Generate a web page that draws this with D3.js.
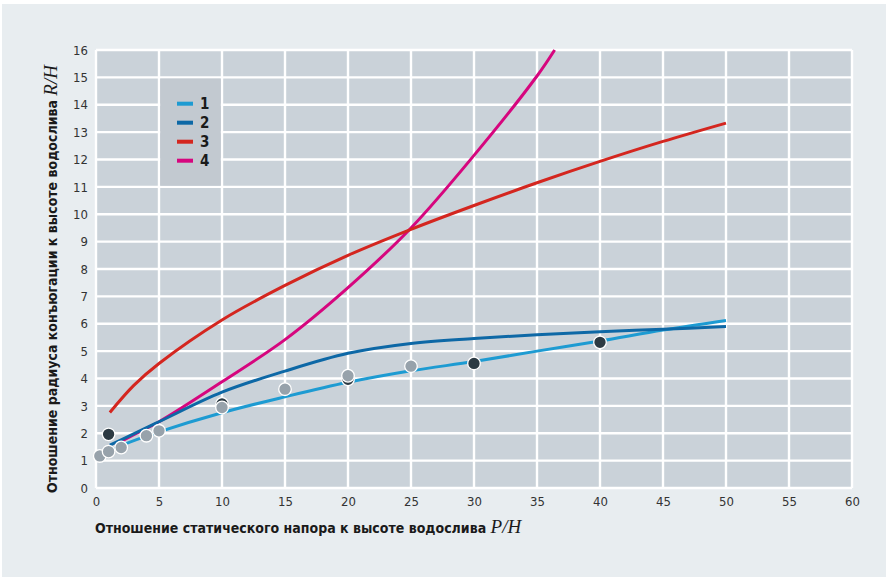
<!DOCTYPE html>
<html>
<head>
<meta charset="utf-8">
<script src="https://cdn.jsdelivr.net/npm/d3@7"></script>
<style>
  html, body { margin: 0; padding: 0; background: #ffffff; }
  svg { display: block; }
  .tick-label { font-family: "DejaVu Sans Condensed", sans-serif; font-size: 13px; fill: #333333; }
  .axis-title { font-family: "DejaVu Sans Condensed", sans-serif; font-weight: bold; font-size: 14px; fill: #1a1a1a; }
  .axis-var { font-family: "Liberation Serif", "DejaVu Serif", serif; font-style: italic; font-weight: normal; font-size: 19px; fill: #1a1a1a; }
  .legend-label { font-family: "DejaVu Sans Condensed", sans-serif; font-weight: bold; font-size: 15px; fill: #1a1a1a; }
</style>
</head>
<body>
<svg id="chart" width="886" height="577"></svg>
<script>
// Ticks
const xTicks = [0, 5, 10, 15, 20, 25, 30, 35, 40, 45, 50, 55, 60];
const yTicks = [0, 1, 2, 3, 4, 5, 6, 7, 8, 9, 10, 11, 12, 13, 14, 15, 16];

// Curve 1
const c1X = [1, 2, 5, 10, 15, 20, 25, 30, 35, 40, 45, 50];
const c1Y = [1.33, 1.55, 2.05, 2.75, 3.33, 3.86, 4.28, 4.62, 5.0, 5.37, 5.77, 6.12];
// Curve 2
const c2X = [1.1, 2, 5, 10, 15, 20, 25, 30, 35, 40, 45, 50];
const c2Y = [1.57, 1.76, 2.42, 3.5, 4.27, 4.92, 5.28, 5.46, 5.6, 5.71, 5.8, 5.9];
// Curve 3
const c3X = [1.1, 3, 5, 10, 15, 20, 25, 30, 35, 40, 45, 50];
const c3Y = [2.76, 3.75, 4.55, 6.14, 7.4, 8.5, 9.45, 10.32, 11.15, 11.93, 12.66, 13.33];
// Curve 4
const c4X = [1.5, 3, 5, 10, 15, 20, 25, 30, 35, 36.4];
const c4Y = [1.58, 1.95, 2.42, 3.88, 5.42, 7.32, 9.5, 12.15, 15.05, 16];

// Measured points
const grayX = [0.3, 1, 2, 4, 5, 10, 15, 20, 25];
const grayY = [1.17, 1.33, 1.48, 1.91, 2.09, 2.94, 3.61, 4.1, 4.45];
const darkX = [1, 10, 20, 30, 40];
const darkY = [1.96, 3.07, 3.97, 4.55, 5.32];

const seriesNames = ["1", "2", "3", "4"];
const seriesColors = ["#1d9bd2", "#0d68a6", "#d4261f", "#d6067e"];

const svg = d3.select("#chart");

// Panel background
svg.append("rect").attr("x", 2).attr("y", 4).attr("width", 884).attr("height", 573).attr("fill", "#e8edf0");

const plotL = 96, plotR = 852, plotT = 50, plotB = 488;
const x = d3.scaleLinear().domain([0, 60]).range([plotL, plotR]);
const y = d3.scaleLinear().domain([0, 16]).range([plotB, plotT]);

// Plot area
svg.append("rect").attr("x", plotL).attr("y", plotT).attr("width", plotR - plotL).attr("height", plotB - plotT).attr("fill", "#cad2d9");

const grid = svg.append("g").attr("stroke", "#ffffff").attr("stroke-width", 2.4);
grid.selectAll("line.v").data(xTicks).join("line").attr("class", "v")
  .attr("x1", d => x(d)).attr("x2", d => x(d)).attr("y1", plotT).attr("y2", plotB);
grid.selectAll("line.h").data(yTicks).join("line").attr("class", "h")
  .attr("x1", plotL).attr("x2", plotR).attr("y1", d => y(d)).attr("y2", d => y(d));

// Legend box covering the cell block 5..10 × 11..15
svg.append("rect")
  .attr("x", x(5) + 1.2).attr("y", y(15) + 1.2)
  .attr("width", x(10) - x(5) - 2.4).attr("height", y(11) - y(15) - 2.4)
  .attr("fill", "#c2c9d0");

// Axes (labels only)
const xAxis = d3.axisBottom(x).tickValues(xTicks).tickSize(0).tickPadding(9);
const gx = svg.append("g").attr("transform", `translate(0,${plotB})`).call(xAxis);
gx.select(".domain").remove();
gx.selectAll("text").attr("class", "tick-label").attr("fill", null);

const yAxis = d3.axisLeft(y).tickValues(yTicks).tickSize(0).tickPadding(8);
const gy = svg.append("g").attr("transform", `translate(${plotL},0)`).call(yAxis);
gy.select(".domain").remove();
gy.selectAll("text").attr("class", "tick-label").attr("fill", null);
gx.attr("font-family", null).attr("font-size", null);
gy.attr("font-family", null).attr("font-size", null);

// Curves
const curves = [[c1X, c1Y], [c2X, c2Y], [c3X, c3Y], [c4X, c4Y]];
const line = d3.line().x(d => x(d[0])).y(d => y(d[1])).curve(d3.curveCatmullRom.alpha(0.5));
const drawOrder = [3, 2, 0, 1];
drawOrder.forEach(i => {
  const pts = curves[i][0].map((v, k) => [v, curves[i][1][k]]);
  svg.append("path").datum(pts).attr("d", line)
    .attr("fill", "none").attr("stroke", seriesColors[i]).attr("stroke-width", 3)
    .attr("stroke-linecap", "butt");
});

// Points
const darkPts = darkX.map((v, k) => [v, darkY[k]]);
const grayPts = grayX.map((v, k) => [v, grayY[k]]);
svg.append("g").selectAll("circle").data(darkPts).join("circle")
  .attr("cx", d => x(d[0])).attr("cy", d => y(d[1])).attr("r", 6.3)
  .attr("fill", "#2c3a43").attr("stroke", "#ffffff").attr("stroke-width", 1.3);
svg.append("g").selectAll("circle").data(grayPts).join("circle")
  .attr("cx", d => x(d[0])).attr("cy", d => y(d[1])).attr("r", 6.3)
  .attr("fill", "#97a2ab").attr("stroke", "#ffffff").attr("stroke-width", 1.3);

// Legend entries
const legendY = [103.7, 122.7, 141.7, 160.7];
seriesNames.forEach((name, i) => {
  svg.append("rect").attr("x", 177).attr("y", legendY[i] - 2).attr("width", 16).attr("height", 4)
    .attr("fill", seriesColors[i]);
  svg.append("text").attr("class", "legend-label").attr("x", 200).attr("y", legendY[i] + 5.5).text(name);
});

// Axis titles
const xt = svg.append("text").attr("class", "axis-title").attr("x", 95).attr("y", 533);
xt.append("tspan").text("Отношение статического напора к высоте водослива ");
xt.append("tspan").attr("class", "axis-var").text("P/H");

const yt = svg.append("text").attr("class", "axis-title")
  .attr("transform", "translate(57,493) rotate(-90)");
yt.append("tspan").text("Отношение радиуса конъюгации к высоте водослива ");
yt.append("tspan").attr("class", "axis-var").text("R/H");
</script>
</body>
</html>
